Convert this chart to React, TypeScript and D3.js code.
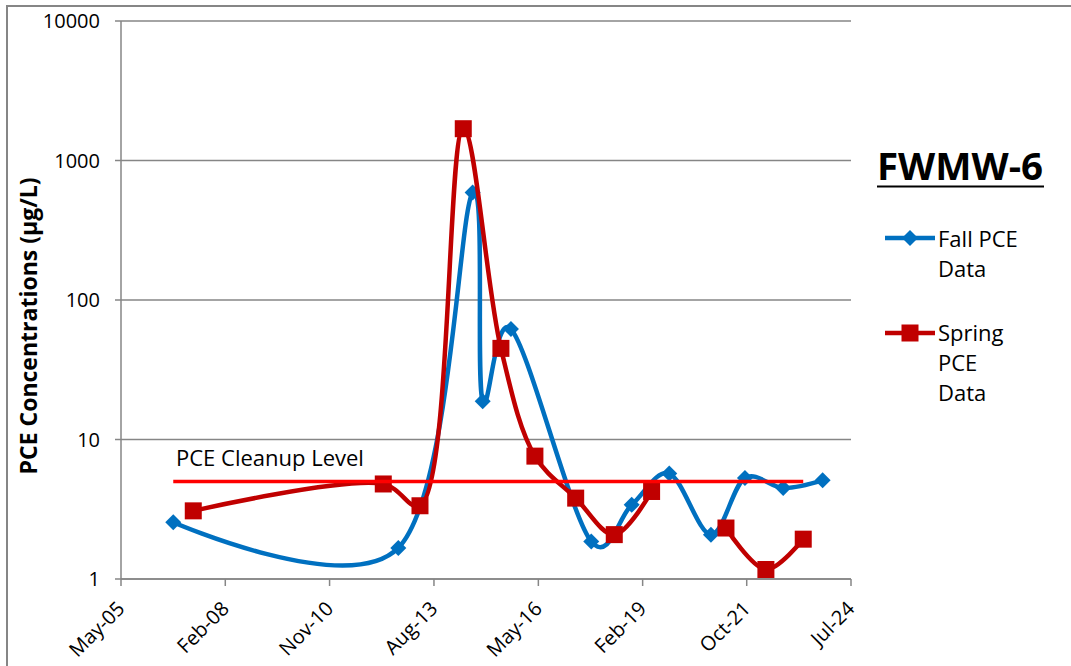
import React from "react";
import * as d3 from "d3";

const fallDates = ["2006-10-11","2012-09-07","2014-08-21","2014-11-25","2015-08-23","2017-10-01","2018-10-24","2019-10-19","2020-11-22","2021-10-14","2022-10-16","2023-10-29"];
const fallValues = [2.55, 1.67, 590, 18.8, 62, 1.86, 3.4, 5.7, 2.08, 5.3, 4.5, 5.1];

// Spring 2020 has no sample (gap in the line)
const springDates = ["2007-04-21","2012-04-16","2013-04-03","2014-05-23","2015-05-19","2016-04-09","2017-05-05","2018-05-10","2019-05-03","2020-05-01","2021-04-15","2022-05-03","2023-04-26"];
const springValues: (number | null)[] = [3.08, 4.8, 3.35, 1690, 45, 7.6, 3.8, 2.08, 4.24, null, 2.32, 1.17, 1.93];

const cleanupDates = ["2006-10-11", "2023-04-26"];
const cleanupValues = [5, 5];

// x ticks every 1000 days (Excel date axis)
const xTickDates = ["2005-05-28","2008-02-22","2010-11-18","2013-08-15","2016-05-12","2019-02-06","2021-10-31","2024-07-27"];
const xTickLabels = ["May-05","Feb-08","Nov-10","Aug-13","May-16","Feb-19","Oct-21","Jul-24"];
const yTicks = [1, 10, 100, 1000, 10000];
const yTickLabels = ["1", "10", "100", "1000", "10000"];

const chartTitle = "FWMW-6";
const yTitle = "PCE Concentrations (µg/L)";
const cleanupLabel = "PCE Cleanup Level";

const parse = d3.utcParse("%Y-%m-%d");
const FONT = "'Open Sans', sans-serif";
const BLUE = "#0070C0";
const DARKRED = "#C00000";
const RED = "#FF0000";
const GRID = "#868686";

export default function App() {
  const left = 121, right = 851, top = 21, bottom = 579;
  const x = d3.scaleUtc()
    .domain([parse(xTickDates[0])!, parse(xTickDates[xTickDates.length - 1])!])
    .range([left, right]);
  const y = d3.scaleLog().domain([1, 10000]).range([bottom, top]);

  const makeLine = (alpha: number) => d3.line<[Date, number | null]>()
    .defined(d => d[1] != null)
    .x(d => x(d[0]))
    .y(d => y(d[1] as number))
    .curve(d3.curveCatmullRom.alpha(alpha));

  const fallData: [Date, number | null][] = fallDates.map((d, i) => [parse(d)!, fallValues[i]]);
  const springData: [Date, number | null][] = springDates.map((d, i) => [parse(d)!, springValues[i]]);
  const cleanData: [Date, number][] = cleanupDates.map((d, i) => [parse(d)!, cleanupValues[i]]);

  const diamond = (cx: number, cy: number, r: number) =>
    `M${cx},${cy - r}L${cx + r},${cy}L${cx},${cy + r}L${cx - r},${cy}Z`;

  return (
    <svg width={1071} height={666} style={{ position: "absolute", left: 0, top: 0, background: "#fff" }}>
      <rect x={0} y={0} width={1071} height={666} fill="#fff" />
      <rect x={7} y={6} width={1100} height={700} fill="#fff" stroke={GRID} strokeWidth={2} />
      {/* gridlines */}
      {yTicks.map((t, i) => (
        <line key={"g" + i} x1={left - 6} x2={right} y1={y(t)} y2={y(t)} stroke={GRID} strokeWidth={1.5} />
      ))}
      {/* y axis */}
      <line x1={left} x2={left} y1={top} y2={bottom} stroke={GRID} strokeWidth={1.5} />
      {/* x ticks */}
      {xTickDates.map((d, i) => (
        <line key={"xt" + i} x1={x(parse(d)!)} x2={x(parse(d)!)} y1={bottom} y2={bottom + 7} stroke={GRID} strokeWidth={1.5} />
      ))}
      {/* y tick labels */}
      {yTicks.map((t, i) => (
        <text key={"yl" + i} x={100} y={y(t)} dy="0.36em" textAnchor="end" fontFamily={FONT} fontSize={20} fill="#000">
          {yTickLabels[i]}
        </text>
      ))}
      {/* x tick labels */}
      {xTickDates.map((d, i) => (
        <text key={"xl" + i} transform={`translate(${x(parse(d)!)},${bottom + 26}) rotate(-45)`} dy="0.35em"
          textAnchor="end" fontFamily={FONT} fontSize={20} fill="#000">
          {xTickLabels[i]}
        </text>
      ))}
      {/* y title */}
      <text transform={`translate(37,326) rotate(-90)`} textAnchor="middle" fontFamily={FONT} fontWeight="bold" fontSize={23} fill="#000">
        {yTitle}
      </text>

      {/* fall series */}
      <path d={makeLine(0.1)(fallData) || ""} fill="none" stroke={BLUE} strokeWidth={4.5} strokeLinejoin="round" />
      {fallData.map((d, i) => (
        <path key={"fd" + i} d={diamond(x(d[0]), y(d[1] as number), 8)} fill={BLUE} />
      ))}
      {/* spring series */}
      <path d={makeLine(0.5)(springData) || ""} fill="none" stroke={DARKRED} strokeWidth={4.5} strokeLinejoin="round" />
      {springData.filter(d => d[1] != null).map((d, i) => (
        <rect key={"sd" + i} x={x(d[0]) - 8.5} y={y(d[1] as number) - 8.5} width={17} height={17} fill={DARKRED} />
      ))}
      {/* cleanup level */}
      <path d={d3.line<[Date, number]>().x(d => x(d[0])).y(d => y(d[1]))(cleanData) || ""} fill="none" stroke={RED} strokeWidth={3.5} />
      <text x={176} y={466} fontFamily={FONT} fontSize={22} fill="#000">{cleanupLabel}</text>

      {/* x axis line */}
      <line x1={left} x2={right} y1={bottom} y2={bottom} stroke={GRID} strokeWidth={1.5} />

      {/* legend */}
      <text x={877} y={180} fontFamily={FONT} fontWeight="bold" fontSize={37} fill="#000" textLength={166} lengthAdjust="spacingAndGlyphs">
        {chartTitle}
      </text>
      <line x1={877} x2={1044} y1={186.5} y2={186.5} stroke="#000" strokeWidth={2} />

      <line x1={885} x2={935} y1={238} y2={238} stroke={BLUE} strokeWidth={4.5} />
      <path d={diamond(910, 238, 8)} fill={BLUE} />
      <text fontFamily={FONT} fontSize={22} fill="#000">
        <tspan x={938} y={247}>Fall PCE</tspan>
        <tspan x={938} y={277}>Data</tspan>
      </text>

      <line x1={885} x2={935} y1={333} y2={333} stroke={DARKRED} strokeWidth={4.5} />
      <rect x={901.5} y={324.5} width={17} height={17} fill={DARKRED} />
      <text fontFamily={FONT} fontSize={22} fill="#000">
        <tspan x={938} y={341}>Spring</tspan>
        <tspan x={938} y={371}>PCE</tspan>
        <tspan x={938} y={401}>Data</tspan>
      </text>
    </svg>
  );
}
